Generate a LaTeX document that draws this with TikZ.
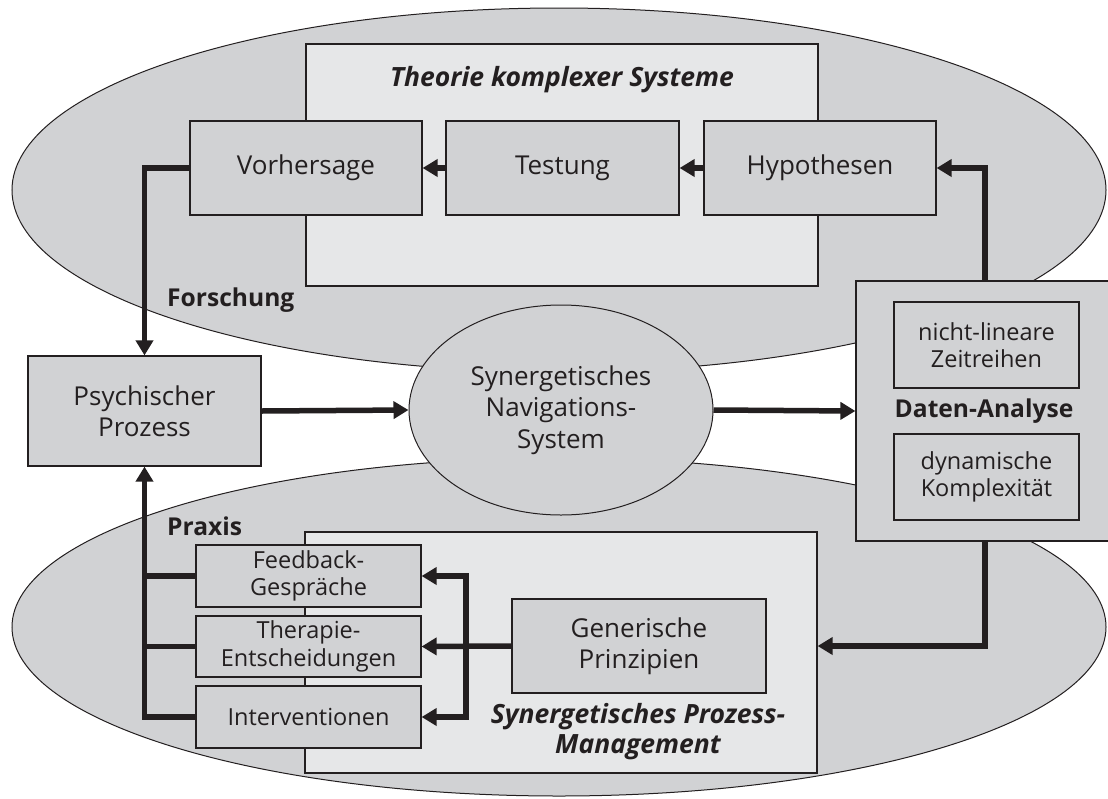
\documentclass[tikz,border=0pt]{standalone}
\usepackage{fontspec}
\setmainfont{Open Sans}
\usetikzlibrary{arrows.meta,shapes.geometric}
\definecolor{linec}{HTML}{231F20}
\definecolor{midgray}{HTML}{D1D2D4}
\definecolor{lightgray}{HTML}{E6E7E8}
\tikzset{
  region/.style={draw=linec, fill=midgray, line width=1pt},
  panel/.style={draw=linec, fill=lightgray, line width=1.2pt, inner sep=0pt},
  box/.style={draw=linec, fill=midgray, line width=1.2pt, inner sep=0pt, align=center,
    text=linec, font=\fontsize{26}{31.5}\selectfont},
  smallbox/.style={box, font=\fontsize{23.5}{27.5}\selectfont},
  lbl/.style={inner sep=0pt, text=linec, font=\bfseries\fontsize{24.6}{29}\selectfont},
  ttl/.style={inner sep=0pt, text=linec, align=center, font=\bfseries\itshape\fontsize{26.5}{30}\selectfont},
  arr/.style={draw=linec, line width=5.5pt, line join=miter, -{Triangle[length=15pt,width=17pt]}},
  link/.style={draw=linec, line width=5.5pt, line join=miter},
}
\begin{document}
\begin{tikzpicture}[x=1pt,y=-1pt]
\useasboundingbox (0,0) rectangle (1108,798);
% regions
\fill[white] (0,0) rectangle (1108,798);
\draw[region] (559,190) ellipse [x radius=547, y radius=182];
\draw[region] (559,627) ellipse [x radius=547, y radius=169];
% panels
\node[panel, minimum width=512pt, minimum height=242pt] (tks) at (562,165) {};
\node[ttl] (tkstitle) at (562,80) {Theorie komplexer Systeme};
\node[panel, minimum width=512pt, minimum height=241pt] (spm) at (561,652.5) {};
\node[ttl] (spmtitle) at (638,732) {Synergetisches Prozess-\\Management};
% labels
\node[lbl, anchor=west] (forsch) at (167,300) {Forschung};
\node[lbl, anchor=west] (praxis) at (167,526) {Praxis};
% central ellipse
\node[box, ellipse, line width=1pt, minimum width=304pt, minimum height=210pt] (sns) at (561,410) {Synergetisches\\Navigations-\\System};
% top boxes
\node[box, minimum width=232pt, minimum height=94pt] (vor) at (306,168) {Vorhersage};
\node[box, minimum width=233pt, minimum height=94pt] (test) at (562.5,168) {Testung};
\node[box, minimum width=232pt, minimum height=94pt] (hyp) at (820,168) {Hypothesen};
% psychischer prozess
\node[box, minimum width=233pt, minimum height=110pt] (psy) at (144.5,411) {Psychischer\\Prozess};
% daten-analyse
\node[box, minimum width=258pt, minimum height=260pt] (daten) at (985,411) {};
\node[smallbox, minimum width=185pt, minimum height=86pt] (nlz) at (986.5,345) {nicht-lineare\\Zeitreihen};
\node[smallbox, minimum width=185pt, minimum height=86pt] (dk) at (986.5,477) {dynamische\\Komplexität};
\node[lbl] (datenlbl) at (984,411) {Daten-Analyse};
% bottom boxes
\node[box, minimum width=254pt, minimum height=94pt] (gen) at (639,646) {Generische\\Prinzipien};
\node[smallbox, minimum width=225pt, minimum height=62pt] (fb) at (308.5,576) {Feedback-\\Gespräche};
\node[smallbox, minimum width=225pt, minimum height=61pt] (th) at (308.5,646.5) {Therapie-\\Entscheidungen};
\node[smallbox, minimum width=225pt, minimum height=62pt] (iv) at (308.5,717) {Interventionen};
% connectors top
\draw[arr] (test.west) -- (vor.east);
\draw[arr] (hyp.west) -- (test.east);
\draw[arr] (vor.west) -| (psy.north);
\draw[arr] (daten.north) |- (hyp.east);
% middle
\draw[arr] (psy.east) -- (sns.west);
\draw[arr] (sns.east) -- (daten.west);
% bottom
\draw[arr] (daten.south) |- (spm.east |- gen.east);
\coordinate (br) at (466,646.5);
\draw[arr] (gen.west) -- (th.east);
\draw[arr] (br) |- (fb.east);
\draw[arr] (br) |- (iv.east);
\draw[arr] (iv.west) -| (psy.south);
\draw[link] (fb.west) -- (fb.west -| psy.south);
\draw[link] (th.west) -- (th.west -| psy.south);
\end{tikzpicture}
\end{document}
